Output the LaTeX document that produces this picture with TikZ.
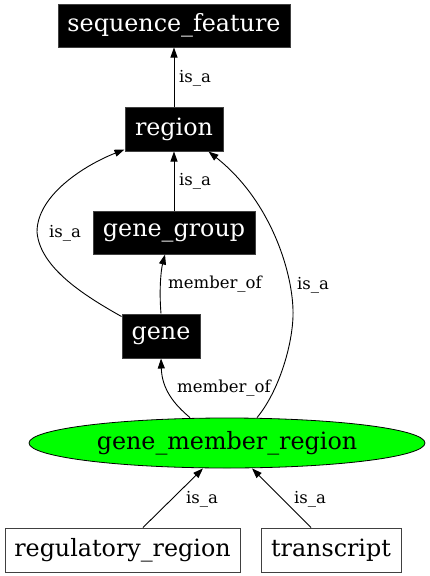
\documentclass[tikz,border=0pt]{standalone}
\usepackage{fontspec}
\setmainfont{DejaVu Serif}
\usetikzlibrary{arrows.meta,shapes.geometric}
\begin{document}
\begin{tikzpicture}[x=1pt,y=-1pt,
  blackbox/.style={draw=black!75,fill=black,text=white,inner sep=0pt,line width=1pt,font=\fontsize{23.8}{28}\selectfont},
  whitebox/.style={draw=black!75,fill=white,text=black,inner sep=0pt,line width=1pt,font=\fontsize{23.8}{28}\selectfont},
  greenell/.style={ellipse,draw=black,fill={rgb,255:red,0;green,255;blue,0},inner sep=0pt,line width=0.8pt,font=\fontsize{23.8}{28}\selectfont},
  arr/.style={-{Triangle[length=10pt,width=7pt]},line width=0.9pt,black},
  lbl/.style={anchor=base west,inner sep=0pt,font=\fontsize{16.5}{19}\selectfont}]
\useasboundingbox (0,0) rectangle (429,576);
\node[blackbox,minimum width=232pt,minimum height=43pt] (sf) at (174,25.5) {sequence\_feature};
\node[blackbox,minimum width=98pt,minimum height=44pt] (region) at (174,129) {region};
\node[blackbox,minimum width=162pt,minimum height=43pt] (gg) at (174,232.5) {gene\_group};
\node[blackbox,minimum width=78pt,minimum height=44pt] (gene) at (161,336) {gene};
\node[greenell,minimum width=396pt,minimum height=50pt] (gmr) at (227,443) {gene\_member\_region};
\node[whitebox,minimum width=235pt,minimum height=44pt] (rr) at (122.5,550) {regulatory\_region};
\node[whitebox,minimum width=140pt,minimum height=44pt] (tr) at (331,550) {transcript};

\draw[arr] (region.north) -- (sf.south);
\draw[arr] (gg.north) -- (region.south);
\draw[arr] ([yshift=-3pt]gene.north west) .. controls (85,296) and (40,268) .. (37,232)
  .. controls (37,195) and (85,165) .. ([yshift=2pt]region.south west);
\draw[arr] (gene.north) .. controls (159,290) and (161,270) .. ([xshift=-9pt]gg.south);
\draw[arr] ([xshift=-37pt]gmr.north) .. controls (175,405) and (162,390) .. (gene.south);
\draw[arr] ([xshift=30pt]gmr.north) .. controls (280,390) and (294,340) .. (293,310)
  .. controls (292,270) and (270,200) .. ([xshift=-15pt]region.south east);
\draw[arr] ([xshift=20.5pt]rr.north) -- ([xshift=-24pt]gmr.south);
\draw[arr] ([xshift=-20pt]tr.north) -- ([xshift=25pt]gmr.south);

\node[lbl] (l1) at (179,82) {is\_a};
\node[lbl] (l2) at (179,185) {is\_a};
\node[lbl] (l3) at (49,237) {is\_a};
\node[lbl] (l4) at (168,288) {member\_of};
\node[lbl] (l5) at (297,289) {is\_a};
\node[lbl] (l6) at (177,392) {member\_of};
\node[lbl] (l7) at (186,503) {is\_a};
\node[lbl] (l8) at (294,503) {is\_a};
\end{tikzpicture}
\end{document}
